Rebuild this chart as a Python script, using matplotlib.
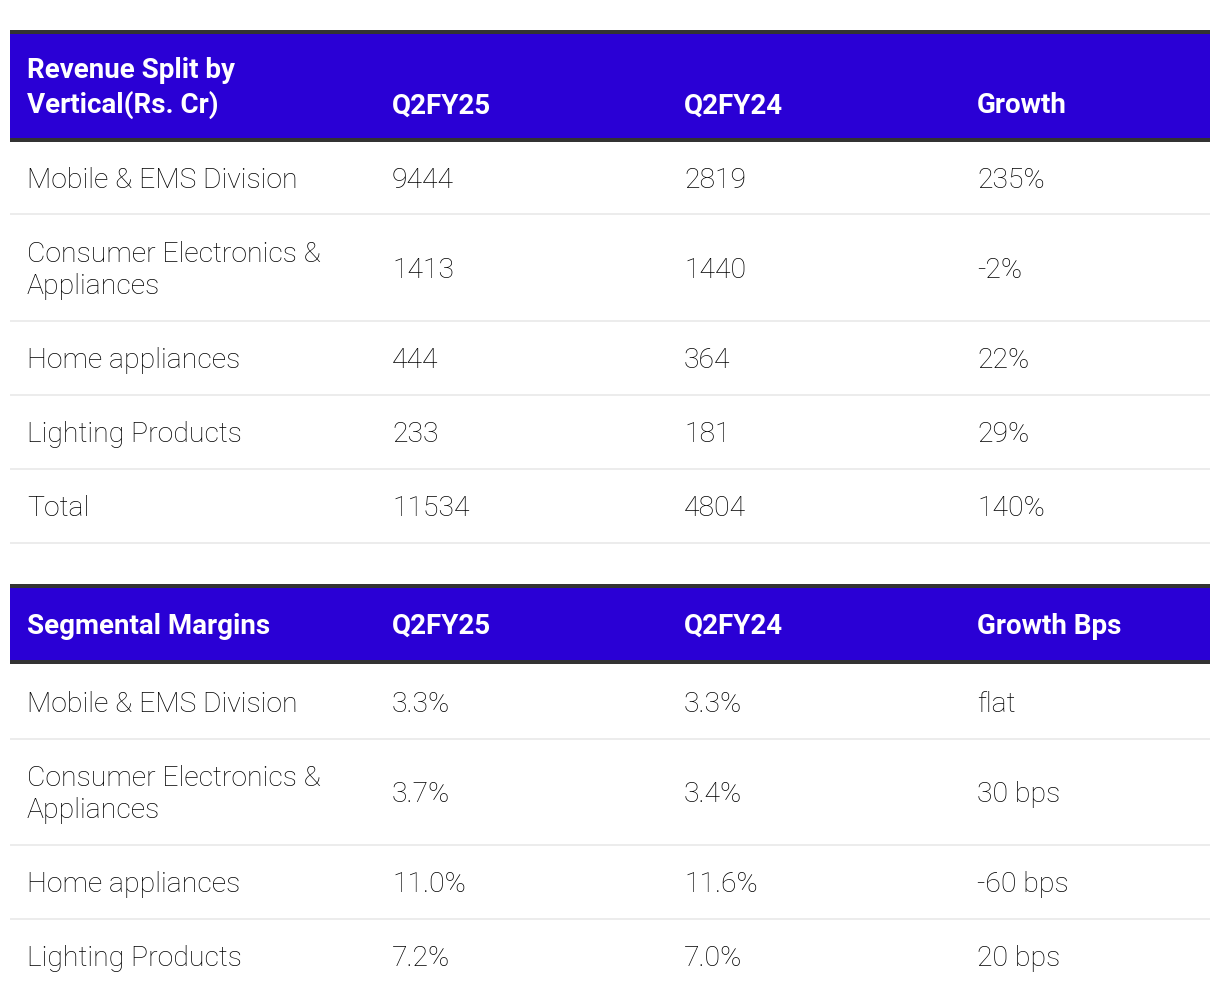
import matplotlib.pyplot as plt
from matplotlib.patches import Rectangle

# table 1 data
rev_header = ["Revenue Split by\nVertical(Rs. Cr)", "Q2FY25", "Q2FY24", "Growth"]
rev_segments = ["Mobile & EMS Division", "Consumer Electronics &\nAppliances",
                "Home appliances", "Lighting Products", "Total"]
rev_q2fy25 = ["9444", "1413", "444", "233", "11534"]
rev_q2fy24 = ["2819", "1440", "364", "181", "4804"]
rev_growth = ["235%", "-2%", "22%", "29%", "140%"]

# table 2 data
mar_header = ["Segmental Margins", "Q2FY25", "Q2FY24", "Growth Bps"]
mar_segments = ["Mobile & EMS Division", "Consumer Electronics &\nAppliances",
                "Home appliances", "Lighting Products"]
mar_q2fy25 = ["3.3%", "3.7%", "11.0%", "7.2%"]
mar_q2fy24 = ["3.3%", "3.4%", "11.6%", "7.0%"]
mar_growth = ["flat", "30 bps", "-60 bps", "20 bps"]

BLUE = "#2a00d5"
DARK = "#333333"
SEP = "#ececec"
col_x = [27, 392, 684, 977]
left, right = 10, 1210

fig = plt.figure(figsize=(12.2, 10.02), dpi=100)
ax = fig.add_axes([0, 0, 1, 1])
ax.set_xlim(0, 1220)
ax.set_ylim(1002, 0)
ax.axis("off")


def put_text(x, yc, s, bold=False):
    lines = s.split("\n")
    n = len(lines)
    gap = 35 if bold else 32
    for i, ln in enumerate(lines):
        y = yc + (i - (n - 1) / 2) * gap + 10
        ax.text(x, y, ln, fontsize=20 if bold else 20.4, va="baseline", ha="left",
                family="Roboto", color="white" if bold else "black",
                fontweight="bold" if bold else "light")


def draw_table(top, head_h, header, rows, row_hs, header_bottom_align=False, last_sep=True):
    ax.add_patch(Rectangle((left, top), right - left, 3.5, color=DARK, lw=0))
    ax.add_patch(Rectangle((left, top + 3.5), right - left, head_h, color=BLUE, lw=0))
    ax.add_patch(Rectangle((left, top + 3.5 + head_h), right - left, 4, color=DARK, lw=0))
    hc = top + 3.5 + head_h / 2
    for j, h in enumerate(header):
        if "\n" in h or not header_bottom_align:
            put_text(col_x[j], hc, h, bold=True)
        else:
            put_text(col_x[j], hc + 17.5, h, bold=True)
    y = top + 7.5 + head_h
    for k, (r, rh) in enumerate(zip(rows, row_hs)):
        yc = y + rh / 2
        for j, cell in enumerate(r):
            put_text(col_x[j], yc, cell)
        if last_sep or k < len(rows) - 1:
            ax.add_patch(Rectangle((left, y + rh - 1), right - left, 2, color=SEP, lw=0))
        y += rh


rev_rows = list(zip(rev_segments, rev_q2fy25, rev_q2fy24, rev_growth))
mar_rows = list(zip(mar_segments, mar_q2fy25, mar_q2fy24, mar_growth))

draw_table(30, 104.5, rev_header, rev_rows, [72, 107, 74, 74, 74], header_bottom_align=True)
draw_table(584, 72.5, mar_header, mar_rows, [75, 106, 74, 74], last_sep=False)

fig.savefig("out.png", dpi=100, facecolor="white")
